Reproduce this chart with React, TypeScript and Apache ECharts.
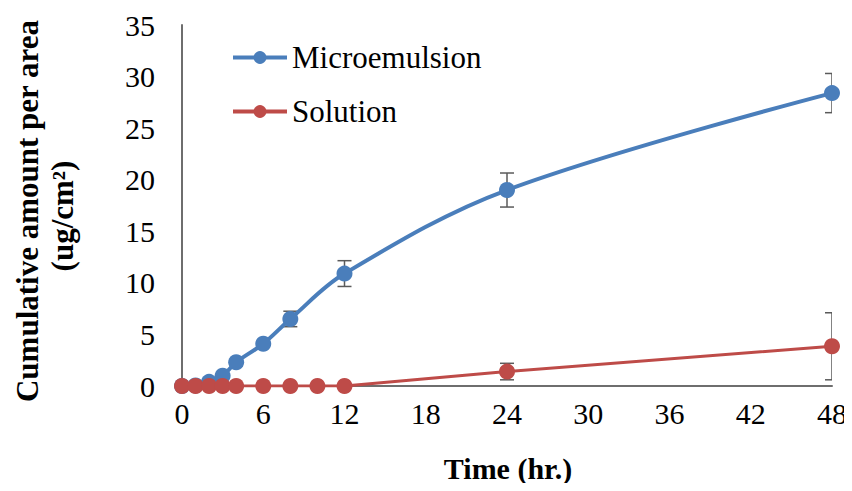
import React, { useEffect, useRef } from "react";
import * as echarts from "echarts";

const microTimes = [0, 1, 2, 3, 4, 6, 8, 12, 24, 48];
const microValues = [0, 0.05, 0.4, 1.0, 2.3, 4.1, 6.5, 10.9, 19.0, 28.4];
const microErr = [0, 0, 0, 0, 0, 0, 0.75, 1.25, 1.65, 1.9];

const solTimes = [0, 1, 2, 3, 4, 6, 8, 10, 12, 24, 48];
const solValues = [0, 0, 0, 0, 0, 0, 0, 0, 0, 1.4, 3.85];
const solErr = [0, 0, 0, 0, 0, 0, 0, 0, 0, 0.8, 3.25];

const xTicks = [0, 6, 12, 18, 24, 30, 36, 42, 48];
const yTicks = [0, 5, 10, 15, 20, 25, 30, 35];

const BLUE = "#4A7EBB";
const RED = "#BE4B48";
const FONT = "Liberation Serif";

function errData(times: number[], vals: number[], errs: number[]) {
  return times
    .map((t, i) => [t, vals[i] - errs[i], vals[i] + errs[i], errs[i]])
    .filter((d) => d[3] > 0);
}

function renderErr(params: any, api: any) {
  const x = api.value(0);
  const lo = api.coord([x, api.value(1)]);
  const hi = api.coord([x, api.value(2)]);
  const w = 7;
  const style = { stroke: "#5A5A5A", lineWidth: 1.5, fill: "none" };
  return {
    type: "group",
    children: [
      { type: "line", shape: { x1: lo[0], y1: lo[1], x2: hi[0], y2: hi[1] }, style },
      { type: "line", shape: { x1: hi[0] - w, y1: hi[1], x2: hi[0] + w, y2: hi[1] }, style },
      { type: "line", shape: { x1: lo[0] - w, y1: lo[1], x2: lo[0] + w, y2: lo[1] }, style },
    ],
  };
}

export default function App() {
  const ref = useRef<HTMLDivElement>(null);
  useEffect(() => {
    if (!ref.current) return;
    const chart = echarts.init(ref.current, undefined, { renderer: "svg" });
    chart.setOption({
      animation: false,
      backgroundColor: "#ffffff",
      textStyle: { fontFamily: FONT },
      grid: { left: 182, right: 20, top: 25, bottom: 105, containLabel: false },
      xAxis: {
        type: "value",
        min: xTicks[0],
        max: xTicks[xTicks.length - 1],
        interval: 6,
        axisLine: { lineStyle: { color: "#6E6E6E", width: 2 } },
        axisTick: { show: false },
        splitLine: { show: false },
        axisLabel: { color: "#000", fontFamily: FONT, fontSize: 30, margin: 12 },
      },
      yAxis: {
        type: "value",
        min: yTicks[0],
        max: yTicks[yTicks.length - 1],
        interval: 5,
        axisLine: { show: true, lineStyle: { color: "#6E6E6E", width: 2 } },
        axisTick: { show: false },
        splitLine: { show: false },
        axisLabel: { color: "#000", fontFamily: FONT, fontSize: 30, margin: 27 },
      },
      legend: {
        orient: "vertical",
        left: 226,
        top: 37,
        itemWidth: 54,
        itemHeight: 16,
        itemGap: 23,
        lineStyle: { width: 4 },
        textStyle: { color: "#000", fontFamily: FONT, fontSize: 31 },
        data: ["Microemulsion", "Solution"],
      },
      graphic: [
        {
          type: "text",
          x: 27,
          y: 211,
          rotation: Math.PI / 2,
          style: {
            text: "Cumulative amount per area",
            fontFamily: FONT,
            fontWeight: "bold",
            fontSize: 31,
            fill: "#000",
            align: "center",
            verticalAlign: "middle",
          },
        },
        {
          type: "text",
          x: 62,
          y: 216,
          rotation: Math.PI / 2,
          style: {
            text: "(ug/cm²)",
            fontFamily: FONT,
            fontWeight: "bold",
            fontSize: 31,
            fill: "#000",
            align: "center",
            verticalAlign: "middle",
          },
        },
        {
          type: "text",
          x: 508,
          y: 468,
          style: {
            text: "Time (hr.)",
            fontFamily: FONT,
            fontWeight: "bold",
            fontSize: 30,
            fill: "#000",
            align: "center",
            verticalAlign: "middle",
          },
        },
      ],
      series: [
        {
          type: "custom",
          name: "errMicro",
          renderItem: renderErr,
          data: errData(microTimes, microValues, microErr),
          clip: true,
          z: 1,
          silent: true,
        },
        {
          type: "custom",
          name: "errSol",
          renderItem: renderErr,
          data: errData(solTimes, solValues, solErr),
          clip: true,
          z: 1,
          silent: true,
        },
        {
          type: "line",
          name: "Microemulsion",
          data: microTimes.map((t, i) => [t, microValues[i]]),
          smooth: 0.35,
          symbol: "circle",
          symbolSize: 16,
          lineStyle: { color: BLUE, width: 4 },
          itemStyle: { color: BLUE },
          z: 3,
        },
        {
          type: "line",
          name: "Solution",
          data: solTimes.map((t, i) => [t, solValues[i]]),
          symbol: "circle",
          symbolSize: 16,
          lineStyle: { color: RED, width: 3 },
          itemStyle: { color: RED },
          z: 4,
        },
      ],
    });
    return () => chart.dispose();
  }, []);
  return <div ref={ref} style={{ width: 852, height: 491, margin: -8 }} />;
}
